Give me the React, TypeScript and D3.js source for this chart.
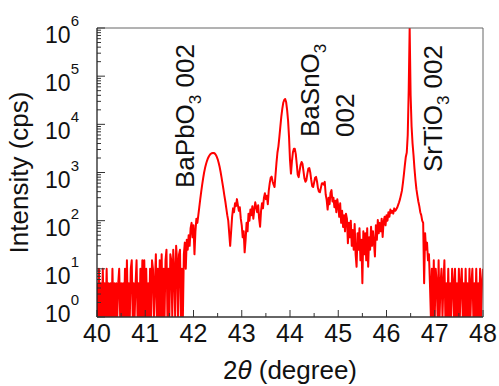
import React, { useEffect, useRef } from 'react';
import * as d3 from 'd3';

// scan step (degrees) shared by all segments
const STEP = 0.02;

// 40.00 - 41.78, background counts
const noiseLowStart = 40.0;
const noiseLow = [
  5, 0, 10, 0, 5, 0, 10, 0, 5, 0,
  10, 0, 5, 0, 5, 0, 10, 0, 5, 0,
  5, 0, 5, 10, 0, 5, 0, 5, 0, 10,
  0, 15, 0, 5, 0, 10, 15, 0, 5, 0,
  5, 15, 0, 5, 0, 10, 0, 15, 0, 15,
  0, 10, 0, 5, 0, 10, 0, 15, 10, 0,
  5, 20, 0, 10, 0, 15, 0, 20, 0, 10,
  0, 15, 25, 0, 10, 0, 20, 15, 0, 25,
  10, 0, 30, 15, 0, 20, 25, 0, 10, 0,
];

// 41.80 - 43.18, BaPbO3 002
const bapbStart = 41.8;
const bapbRegion = [
  20, 35, 10, 40, 25, 50, 30, 70, 90, 45,
  80, 20, 60, 110, 90, 130, 190, 280, 400, 560,
  760, 1000, 1250, 1500, 1750, 1980, 2180, 2340, 2450, 2520,
  2550, 2540, 2480, 2350, 2150, 1900, 1620, 1330, 1050, 800,
  600, 450, 330, 250, 180, 130, 100, 55, 30, 60,
  120, 180, 150, 230, 200, 280, 210, 160, 190, 110,
  80, 45, 60, 22, 40, 90, 60, 140, 100, 170,
];

// 43.20 - 44.76, BaSnO3 002 with thickness fringes
const basnStart = 43.2;
const basnRegion = [
  130, 200, 110, 170, 240, 190, 150, 210, 110, 75,
  160, 230, 180, 300, 370, 280, 330, 220, 420, 600,
  780, 820, 650, 560, 500, 900, 1600, 2600, 3500, 5500,
  9000, 14500, 21000, 28000, 32000, 33500, 29000, 20000, 12000, 5500,
  1800, 950, 1700, 2600, 3100, 3100, 2400, 1500, 900, 800,
  1100, 1450, 1650, 1500, 1050, 750, 640, 700, 950, 1200,
  1240, 1000, 700, 520, 500, 620, 780, 810, 650, 470,
  400, 390, 480, 590, 600, 560, 640, 350, 270,
];

// 44.78 - 46.18
const valleyStart = 44.78;
const valleyRegion = [
  170, 300, 220, 380, 430, 250, 300, 190, 260, 150,
  280, 200, 120, 230, 90, 160, 74, 130, 60, 140,
  110, 34, 90, 45, 100, 30, 64, 25, 85, 20,
  11, 55, 25, 70, 15, 40, 5, 60, 20, 55,
  15, 70, 11, 45, 25, 75, 30, 60, 35, 18,
  80, 40, 103, 55, 90, 60, 110, 46, 95, 120,
  80, 130, 100, 150, 120, 170, 145, 160, 140, 180,
  160,
];

// 46.20 - 46.88, SrTiO3 002 substrate
const stoStart = 46.2;
const stoRegion = [
  170, 185, 210, 240, 280, 340, 420, 600, 900, 1400,
  2100, 2600, 6000, 50000, 1200000, 40000, 9000, 4000, 2300, 1200,
  700, 450, 330, 250, 200, 150, 130, 100, 90, 5,
  55, 25, 35, 15, 20,
];

// 46.90 - 48.00, background counts
const noiseHighStart = 46.9;
const noiseHigh = [
  5, 0, 10, 0, 15, 0, 10, 5, 0, 15,
  0, 5, 10, 0, 5, 15, 0, 5, 0, 10,
  0, 5, 0, 10, 5, 0, 10, 0, 5, 0,
  10, 0, 5, 10, 0, 5, 0, 10, 0, 5,
  0, 10, 0, 5, 10, 0, 5, 0, 10, 0,
  5, 0, 10, 0, 5, 10,
];

const xTicks = [40, 41, 42, 43, 44, 45, 46, 47, 48];
const yTicks = [1, 10, 100, 1000, 10000, 100000, 1000000];
const yExponents = ['0', '1', '2', '3', '4', '5', '6'];

const labels = [
  { parts: [['BaPbO', 0], ['3', 1], [' 002', 0]], x: 194, y: 188 },
  { parts: [['BaSnO', 0], ['3', 1]], x: 319, y: 137 },
  { parts: [['002', 0]], x: 354, y: 137 },
  { parts: [['SrTiO', 0], ['3', 1], [' 002', 0]], x: 442, y: 172 },
];

const FONT = "'Liberation Sans', Arial, Helvetica, sans-serif";

const XrdChart = ({ width = 499, height = 386 }) => {
  const svgRef = useRef(null);

  useEffect(() => {
    const svg = d3.select(svgRef.current);
    svg.selectAll('*').remove();

    const margin = { top: 28, right: 16, bottom: 69, left: 97 };
    const innerWidth = width - margin.left - margin.right;
    const innerHeight = height - margin.top - margin.bottom;

    const segments = [
      [noiseLowStart, noiseLow],
      [bapbStart, bapbRegion],
      [basnStart, basnRegion],
      [valleyStart, valleyRegion],
      [stoStart, stoRegion],
      [noiseHighStart, noiseHigh],
    ];
    const scan = segments.flatMap(([start, vals]) =>
      vals.map((v, i) => ({ angle: start + i * STEP, cps: v }))
    );

    const xScale = d3.scaleLinear().domain([40, 48]).range([0, innerWidth]);
    const yScale = d3.scaleLog().domain([1, 1e6]).range([innerHeight, 0]).clamp(true);

    const g = svg.append('g')
      .attr('transform', `translate(${margin.left},${margin.top})`);

    g.append('clipPath').attr('id', 'plot-clip')
      .append('rect').attr('width', innerWidth).attr('height', innerHeight);

    const line = d3.line()
      .x(d => xScale(d.angle))
      .y(d => yScale(Math.max(d.cps, 1)));

    g.append('path')
      .datum(scan)
      .attr('clip-path', 'url(#plot-clip)')
      .attr('fill', 'none')
      .attr('stroke', '#ff0000')
      .attr('stroke-width', 2)
      .attr('stroke-linejoin', 'round')
      .attr('d', line);

    // frame: top and right in grey
    g.append('line').attr('x1', 0).attr('x2', innerWidth).attr('y1', 0).attr('y2', 0)
      .attr('stroke', '#666').attr('stroke-width', 1);
    g.append('line').attr('x1', innerWidth).attr('x2', innerWidth).attr('y1', 0).attr('y2', innerHeight)
      .attr('stroke', '#666').attr('stroke-width', 1);

    // x ticks (inward)
    const xMinor = d3.range(40.5, 48, 1);
    g.selectAll('.xmaj').data(xTicks).enter().append('line')
      .attr('x1', d => xScale(d)).attr('x2', d => xScale(d))
      .attr('y1', innerHeight).attr('y2', innerHeight - 7)
      .attr('stroke', '#333').attr('stroke-width', 1);
    g.selectAll('.xmin').data(xMinor).enter().append('line')
      .attr('x1', d => xScale(d)).attr('x2', d => xScale(d))
      .attr('y1', innerHeight).attr('y2', innerHeight - 4)
      .attr('stroke', '#333').attr('stroke-width', 1);

    // y ticks (inward), minor on log decades
    const yMinor = [];
    for (let k = 0; k < 6; k++) {
      for (let m = 2; m <= 9; m++) yMinor.push(m * Math.pow(10, k));
    }
    g.selectAll('.ymaj').data(yTicks).enter().append('line')
      .attr('x1', 0).attr('x2', 8)
      .attr('y1', d => yScale(d)).attr('y2', d => yScale(d))
      .attr('stroke', '#333').attr('stroke-width', 1);
    g.selectAll('.ymin').data(yMinor).enter().append('line')
      .attr('x1', 0).attr('x2', 4)
      .attr('y1', d => yScale(d)).attr('y2', d => yScale(d))
      .attr('stroke', '#333').attr('stroke-width', 1);

    // left and bottom axis lines
    g.append('line').attr('x1', 0).attr('x2', 0).attr('y1', 0).attr('y2', innerHeight)
      .attr('stroke', '#222').attr('stroke-width', 1.3);
    g.append('line').attr('x1', 0).attr('x2', innerWidth).attr('y1', innerHeight).attr('y2', innerHeight)
      .attr('stroke', '#333').attr('stroke-width', 1.3);

    // x tick labels
    g.selectAll('.xlab').data(xTicks).enter().append('text')
      .attr('x', d => xScale(d))
      .attr('y', innerHeight + 25)
      .attr('text-anchor', 'middle')
      .attr('font-family', FONT)
      .attr('font-size', 25)
      .attr('fill', '#111')
      .text(d => d);

    // y tick labels 10^n
    yTicks.forEach((t, i) => {
      const txt = g.append('text')
        .attr('x', -18)
        .attr('y', yScale(t) + (t === 1 ? 5 : 15))
        .attr('text-anchor', 'end')
        .attr('font-family', FONT)
        .attr('fill', '#111');
      txt.append('tspan').attr('font-size', 23).text('10');
      txt.append('tspan').attr('font-size', 15).attr('dy', -17).text(yExponents[i]);
    });

    // axis titles
    g.append('text')
      .attr('transform', `translate(${28 - margin.left},${innerHeight / 2}) rotate(-90)`)
      .attr('text-anchor', 'middle')
      .attr('font-family', FONT)
      .attr('font-size', 26)
      .attr('fill', '#111')
      .text('Intensity (cps)');

    const xt = g.append('text')
      .attr('x', innerWidth / 2)
      .attr('y', 379 - margin.top)
      .attr('text-anchor', 'middle')
      .attr('font-family', FONT)
      .attr('font-size', 26)
      .attr('fill', '#111');
    xt.append('tspan').text('2');
    xt.append('tspan').attr('font-style', 'italic').text('\u03b8');
    xt.append('tspan').text(' (degree)');

    // peak annotations
    labels.forEach(l => {
      const t = svg.append('text')
        .attr('transform', `translate(${l.x},${l.y}) rotate(-90)`)
        .attr('font-family', FONT)
        .attr('font-size', 26)
        .attr('fill', '#111');
      let shifted = false;
      l.parts.forEach(([s, sub]) => {
        const sp = t.append('tspan').text(s);
        if (sub) {
          sp.attr('font-size', 17).attr('dy', 7);
          shifted = true;
        } else if (shifted) {
          sp.attr('dy', -7);
          shifted = false;
        }
      });
    });
  }, [width, height]);

  return (
    <svg
      ref={svgRef}
      width={width}
      height={height}
      style={{ position: 'absolute', left: 0, top: 0, background: '#fff' }}
    />
  );
};

export default function App() {
  return <XrdChart />;
}
